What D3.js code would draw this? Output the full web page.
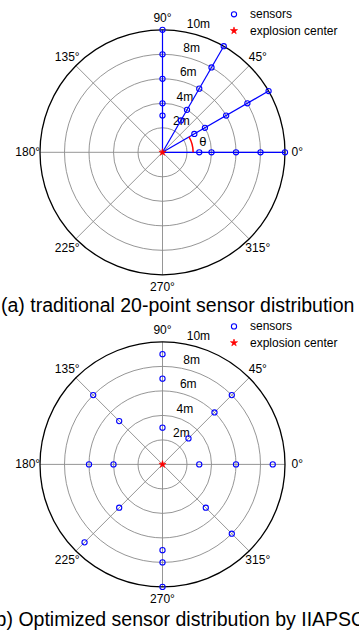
<!DOCTYPE html>
<html>
<head>
<meta charset="utf-8">
<script src="https://cdn.jsdelivr.net/npm/d3@7"></script>
<style>
  html, body { margin: 0; padding: 0; background: #fff; }
  svg { display: block; font-family: "Liberation Sans", Arial, Helvetica, sans-serif; }
</style>
</head>
<body>
<svg id="chart" width="359" height="634"></svg>
<script>
// Polar grid definition (radius in metres, angles in degrees)
const ringValues = [2, 4, 6, 8, 10];
const ringLabels = ["2m", "4m", "6m", "8m", "10m"];
const spokeAngles = [0, 45, 90, 135, 180, 225, 270, 315];
const angleLabels = ["0°", "45°", "90°", "135°", "180°", "225°", "270°", "315°"];

// Panel (a): traditional layout, four straight survey lines
const rayAnglesA = [0, 30, 60, 90];
const sensorThetaA = [0, 0, 0, 0, 0, 30, 30, 30, 30, 30, 60, 60, 60, 60, 60, 90, 90, 90, 90, 90];
const sensorRadiusA = [3, 4, 6, 8, 10, 3, 4, 6, 8, 10, 3, 4, 6, 8, 10, 3, 4, 6, 8, 10];
const thetaArc = [0, 30];

// Panel (b): optimized layout
const sensorThetaB = [0, 0, 0, 45, 45, 45, 90, 90, 90, 135, 135, 180, 180, 225, 225, 270, 270, 270, 315, 315];
const sensorRadiusB = [3, 6, 9, 3, 6, 8, 3, 7, 9, 5, 8, 4, 6, 5, 9, 7, 8, 10, 5, 8];

const captions = [
  "(a) traditional 20-point sensor distribution",
  "(b) Optimized sensor distribution by IIAPSO"
];
const legendLabels = ["sensors", "explosion center"];

const BLUE = "#0000ff", RED = "#ff0000", GRID = "#8a8a8a";
const svg = d3.select("#chart");
const rScale = d3.scaleLinear().domain([0, 10]).range([0, 122.5]);
const rad = d => d * Math.PI / 180;

function polarXY(thetaDeg, r) {
  const p = rScale(r);
  return [p * Math.cos(rad(thetaDeg)), -p * Math.sin(rad(thetaDeg))];
}

function drawPanel(cx, cy, opts) {
  const g = svg.append("g").attr("transform", `translate(${cx},${cy})`);
  const rMax = d3.max(ringValues);

  // spokes
  g.selectAll("line.spoke").data(spokeAngles).join("line")
    .attr("class", "spoke")
    .attr("x1", 0).attr("y1", 0)
    .attr("x2", d => polarXY(d, rMax)[0])
    .attr("y2", d => polarXY(d, rMax)[1])
    .attr("stroke", GRID).attr("stroke-width", 0.9);

  // rings
  g.selectAll("circle.ring").data(ringValues).join("circle")
    .attr("class", "ring")
    .attr("r", d => rScale(d))
    .attr("fill", "none")
    .attr("stroke", d => d === rMax ? "#000" : GRID)
    .attr("stroke-width", d => d === rMax ? 1.3 : 0.9);

  // ring labels at 82 degrees
  g.selectAll("text.rlab").data(ringValues).join("text")
    .attr("class", "rlab")
    .attr("x", d => polarXY(82, d + 0.1)[0] + 7)
    .attr("y", d => polarXY(82, d + 0.1)[1] - 2)
    .attr("font-size", 12)
    .attr("fill", "#000")
    .text((d, i) => ringLabels[i]);

  // angle labels
  g.selectAll("text.alab").data(spokeAngles).join("text")
    .attr("class", "alab")
    .attr("x", d => polarXY(d, rMax * 1.1)[0])
    .attr("y", d => polarXY(d, rMax * 1.1)[1])
    .attr("text-anchor", "middle")
    .attr("dominant-baseline", "central")
    .attr("font-size", 12)
    .attr("fill", "#000")
    .text((d, i) => angleLabels[i]);

  // survey lines
  if (opts.rays) {
    g.selectAll("line.ray").data(opts.rays).join("line")
      .attr("class", "ray")
      .attr("x1", 0).attr("y1", 0)
      .attr("x2", d => polarXY(d, rMax)[0])
      .attr("y2", d => polarXY(d, rMax)[1])
      .attr("stroke", BLUE).attr("stroke-width", 1.2);
  }

  // angle indicator
  if (opts.arc) {
    const arcGen = d3.arc()
      .innerRadius(rScale(2.5)).outerRadius(rScale(2.5))
      .startAngle(rad(90 - opts.arc[0])).endAngle(rad(90 - opts.arc[1]));
    g.append("path").attr("d", arcGen())
      .attr("fill", "none").attr("stroke", RED).attr("stroke-width", 1.5);
    g.append("text")
      .attr("x", polarXY(15, 3.5)[0] - 1)
      .attr("y", polarXY(15, 3.5)[1])
      .attr("text-anchor", "middle")
      .attr("dominant-baseline", "central")
      .attr("font-size", 13)
      .attr("fill", "#000")
      .text("θ");
  }

  // sensors
  const pts = opts.theta.map((t, i) => polarXY(t, opts.radius[i]));
  g.selectAll("circle.sensor").data(pts).join("circle")
    .attr("class", "sensor")
    .attr("cx", d => d[0]).attr("cy", d => d[1])
    .attr("r", 2.6)
    .attr("fill", "none").attr("stroke", BLUE).attr("stroke-width", 1.1);

  // explosion center
  g.append("path")
    .attr("d", d3.symbol().type(d3.symbolStar).size(16)())
    .attr("fill", RED).attr("stroke", RED).attr("stroke-width", 0.6);

  // legend
  const lg = svg.append("g").attr("transform", `translate(234,${cy - 138})`);
  lg.append("circle").attr("cx", 0).attr("cy", 0).attr("r", 2.6)
    .attr("fill", "none").attr("stroke", BLUE).attr("stroke-width", 1.1);
  lg.append("path").attr("transform", "translate(0,16.4)")
    .attr("d", d3.symbol().type(d3.symbolStar).size(16)())
    .attr("fill", RED).attr("stroke", RED).attr("stroke-width", 0.6);
  lg.selectAll("text").data(legendLabels).join("text")
    .attr("x", 16).attr("y", (d, i) => i * 16.4)
    .attr("dominant-baseline", "central")
    .attr("font-size", 12).attr("fill", "#000")
    .text(d => d);

  // caption
  svg.append("text")
    .attr("x", 177.7).attr("y", opts.captionY)
    .attr("text-anchor", "middle")
    .attr("font-size", 19.5).attr("fill", "#000")
    .text(opts.caption);
}

drawPanel(162.5, 152.3, {
  rays: rayAnglesA, arc: thetaArc,
  theta: sensorThetaA, radius: sensorRadiusA,
  caption: captions[0], captionY: 312.3
});
drawPanel(162.5, 464.4, {
  theta: sensorThetaB, radius: sensorRadiusB,
  caption: captions[1], captionY: 625.7
});
</script>
</body>
</html>
